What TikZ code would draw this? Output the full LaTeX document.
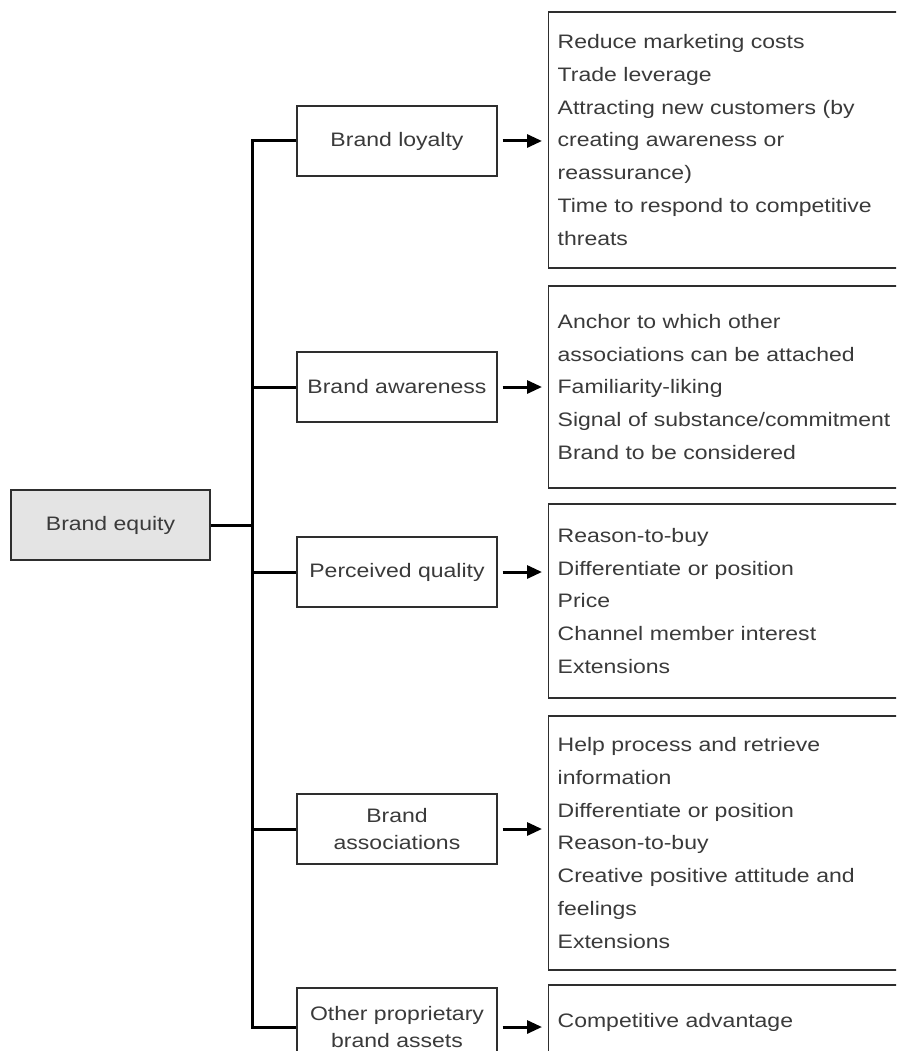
\documentclass[tikz,border=0pt]{standalone}
\usepackage{fontspec}
\setmainfont{Liberation Sans}[FakeStretch=1.18]
\usetikzlibrary{arrows.meta}
\definecolor{ink}{HTML}{3A3A3A}
\definecolor{frame}{HTML}{2E2E2E}
\definecolor{equityfill}{HTML}{E4E4E4}
\begin{document}
\begin{tikzpicture}[x=1pt,y=-1pt,
  every node/.style={font=\fontsize{19.5}{32.7}\selectfont, text=ink},
  box/.style={draw=frame, line width=1.3pt, minimum width=200pt, minimum height=70pt,
    align=center, inner sep=0pt, font=\fontsize{19.5}{26.5}\selectfont},
  list/.style={draw=frame, line width=1.3pt, anchor=west, text width=402pt,
    inner xsep=9pt, inner ysep=0pt, align=left},
  conn/.style={line width=3pt, black},
  arr/.style={conn, -{Triangle[length=15pt,width=13pt]}, shorten >=6pt}]

\useasboundingbox (0,0) rectangle (896,1051);
\clip (0,0) rectangle (896,1051);

% root
\node[box, fill=equityfill, minimum width=199pt] (eq) at (110.5,525) {Brand equity};

% dimensions of brand equity
\node[box] (b1) at (397,141) {Brand loyalty};
\node[box] (b2) at (397,387) {Brand awareness};
\node[box] (b3) at (397,572) {Perceived quality};
\node[box] (b4) at (397,829) {Brand\\associations};
\node[box, minimum height=78pt] (b5) at (397,1027) {Other proprietary\\brand assets};

% value provided by each dimension
\node[list, minimum height=256pt] (r1) at (548,140) {Reduce marketing costs\\Trade leverage\\Attracting new customers (by\\creating awareness or\\reassurance)\\Time to respond to competitive\\threats};
\node[list, minimum height=202pt] (r2) at (548,387) {Anchor to which other\\associations can be attached\\Familiarity-liking\\Signal of substance/commitment\\Brand to be considered};
\node[list, minimum height=194pt] (r3) at (548,601) {Reason-to-buy\\Differentiate or position\\Price\\Channel member interest\\Extensions};
\node[list, minimum height=254pt] (r4) at (548,843) {Help process and retrieve\\information\\Differentiate or position\\Reason-to-buy\\Creative positive attitude and\\feelings\\Extensions};
\node[list, minimum height=74pt] (r5) at (548,1022) {Competitive advantage};

% trunk
\coordinate (trunk) at (252,0);
\draw[conn] (b1.west) -- (b1.west -| trunk) -- (b5.west -| trunk) -- (b5.west);
\draw[conn] (eq.east) -- (eq.east -| trunk);
\foreach \b in {b2,b3,b4}
  \draw[conn] (\b.west) -- (\b.west -| trunk);

% arrows
\foreach \b/\r in {b1/r1,b2/r2,b3/r3,b4/r4,b5/r5}
  \draw[arr] ([xshift=5pt]\b.east) -- (\b.east -| \r.west);
\end{tikzpicture}
\end{document}
